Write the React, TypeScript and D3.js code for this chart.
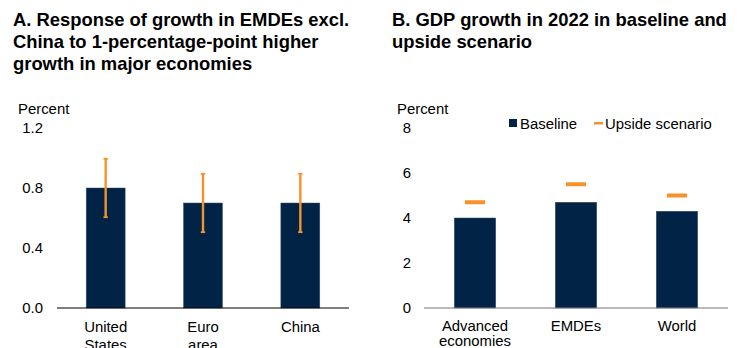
import React from "react";
import * as d3 from "d3";

const W = 747;
const H = 348;
const NAVY = "#002346";
const ORANGE = "#F7922A";
const FONT = "'Liberation Sans', Arial, Helvetica, sans-serif";
const FS = 14.9;
const TFS = 18.4;

// Panel A data
const aCategories = [["United", "States"], ["Euro", "area"], ["China"]];
const aValues = [0.8, 0.7, 0.7];
const aLow = [0.6, 0.5, 0.5];
const aHigh = [1.0, 0.9, 0.9];
const aTicks = [0, 0.4, 0.8, 1.2];
const aTitle = [
  "A. Response of growth in EMDEs excl.",
  "China to 1-percentage-point higher",
  "growth in major economies",
];

// Panel B data
const bCategories = [["Advanced", "economies"], ["EMDEs"], ["World"]];
const bBaseline = [4.0, 4.7, 4.3];
const bUpside = [4.7, 5.5, 5.0];
const bTicks = [0, 2, 4, 6, 8];
const bTitle = ["B. GDP growth in 2022 in baseline and", "upside scenario"];

function PanelA() {
  const x = d3
    .scaleBand<number>()
    .domain(aValues.map((_, i) => i))
    .range([57, 349])
    .paddingInner(0.6)
    .paddingOuter(0.3);
  const y = d3.scaleLinear().domain([0, 1.2]).range([308, 128]);
  return (
    <g>
      {aTitle.map((t, i) => (
        <text key={i} x={13} y={26 + i * 22} fontSize={TFS} fontWeight="bold" fill="#000">
          {t}
        </text>
      ))}
      <text x={18} y={114} fontSize={FS} fill="#000">Percent</text>
      {aTicks.map((t) => (
        <text key={t} x={43} y={y(t) + 5} fontSize={FS} textAnchor="end" fill="#000">
          {d3.format(".1f")(t)}
        </text>
      ))}
      {aValues.map((v, i) => (
        <rect
          key={i}
          x={x(i)!}
          y={y(v)}
          width={x.bandwidth()}
          height={y(0) - y(v)}
          fill={NAVY}
          stroke="#3d5068"
          strokeWidth={0.5}
        />
      ))}
      {aValues.map((_, i) => {
        const cx = x(i)! + x.bandwidth() / 2;
        return (
          <g key={i}>
            <line x1={cx} x2={cx} y1={y(aHigh[i])} y2={y(aLow[i])} stroke={ORANGE} strokeWidth={2.4} />
            <line x1={cx - 2.2} x2={cx + 2.2} y1={y(aHigh[i]) + 0.8} y2={y(aHigh[i]) + 0.8} stroke={ORANGE} strokeWidth={1.8} />
            <line x1={cx - 2.2} x2={cx + 2.2} y1={y(aLow[i]) - 0.8} y2={y(aLow[i]) - 0.8} stroke={ORANGE} strokeWidth={1.8} />
          </g>
        );
      })}
      <line x1={57} x2={349} y1={y(0)} y2={y(0)} stroke="#000" strokeWidth={1} />
      {aCategories.map((lines, i) => (
        <text key={i} textAnchor="middle" fontSize={FS} fill="#000">
          {lines.map((l, j) => (
            <tspan key={j} x={x(i)! + x.bandwidth() / 2} y={331.5 + j * 18.5}>
              {l}
            </tspan>
          ))}
        </text>
      ))}
    </g>
  );
}

function PanelB() {
  const x = d3
    .scaleBand<number>()
    .domain(bBaseline.map((_, i) => i))
    .range([424, 728])
    .paddingInner(0.59)
    .paddingOuter(0.3);
  const y = d3.scaleLinear().domain([0, 8]).range([308, 128]);
  return (
    <g>
      {bTitle.map((t, i) => (
        <text key={i} x={392} y={26 + i * 22} fontSize={TFS} fontWeight="bold" fill="#000">
          {t}
        </text>
      ))}
      <text x={397} y={114} fontSize={FS} fill="#000">Percent</text>
      {bTicks.map((t) => (
        <text key={t} x={411} y={y(t) + 5} fontSize={FS} textAnchor="end" fill="#000">
          {t}
        </text>
      ))}
      {bBaseline.map((v, i) => (
        <rect
          key={i}
          x={x(i)!}
          y={y(v)}
          width={x.bandwidth()}
          height={y(0) - y(v)}
          fill={NAVY}
          stroke="#3d5068"
          strokeWidth={0.5}
        />
      ))}
      {bUpside.map((v, i) => {
        const cx = x(i)! + x.bandwidth() / 2;
        return <rect key={i} x={cx - 10} y={y(v) - 2} width={20} height={4} fill={ORANGE} />;
      })}
      <line x1={424} x2={728} y1={y(0)} y2={y(0)} stroke="#777" strokeWidth={1} />
      {bCategories.map((lines, i) => (
        <text key={i} textAnchor="middle" fontSize={FS} fill="#000">
          {lines.map((l, j) => (
            <tspan key={j} x={x(i)! + x.bandwidth() / 2} y={330.5 + j * 15.5}>
              {l}
            </tspan>
          ))}
        </text>
      ))}
      <rect x={509} y={119} width={8} height={8} fill={NAVY} />
      <text x={520} y={128.5} fontSize={FS} fill="#000">Baseline</text>
      <rect x={594} y={122} width={9} height={2.5} fill={ORANGE} />
      <text x={605} y={128.5} fontSize={FS} fill="#000">Upside scenario</text>
    </g>
  );
}

export default function App() {
  return (
    <svg
      width={W}
      height={H}
      style={{ position: "absolute", left: 0, top: 0, background: "#fff", fontFamily: FONT }}
      fontFamily={FONT}
    >
      <rect width={W} height={H} fill="#fff" />
      <PanelA />
      <PanelB />
    </svg>
  );
}
